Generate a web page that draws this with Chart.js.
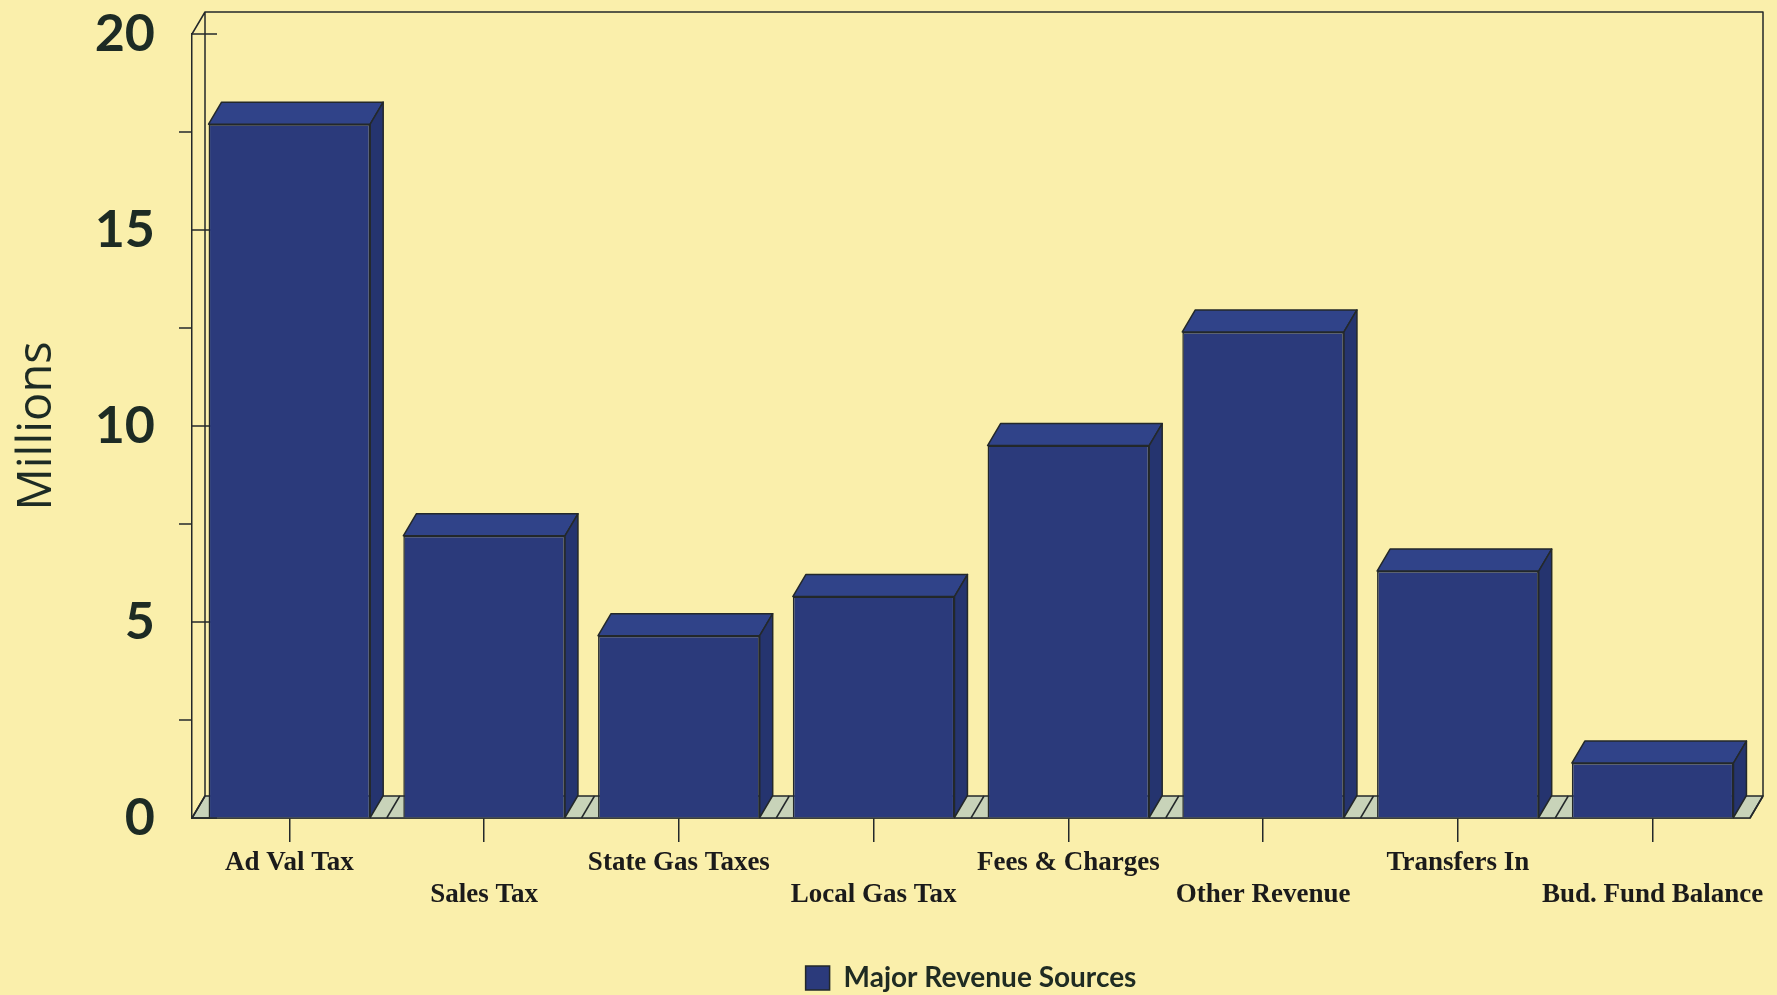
<!DOCTYPE html>
<html><head><meta charset="utf-8">
<script src="https://cdn.jsdelivr.net/npm/chart.js@4.4.0/dist/chart.umd.min.js"></script>
<style>html,body{margin:0;padding:0;background:#FAEFAB;} canvas{display:block;}</style>
</head><body>
<canvas id="c" width="1777" height="995"></canvas>
<script>
// ---- data ----
const categories = ['Ad Val Tax','Sales Tax','State Gas Taxes','Local Gas Tax','Fees & Charges','Other Revenue','Transfers In','Bud. Fund Balance'];
const revenueMillions = [17.7, 7.2, 4.65, 5.65, 9.5, 12.4, 6.3, 1.4];
const seriesName = 'Major Revenue Sources';
const yMajorTicks = [0, 5, 10, 15, 20];
const yAxisTitle = 'Millions';

// ---- style ----
const BG = '#FAEFAB';
const LINE = '#23282a';
const FRONT = '#2b3a7b';
const TOP = '#304389';
const SIDE = '#25346f';
const FLOOR = '#c8d3b9';
const DX = 13, DY = -22;

const depth3d = {
  id: 'depth3d',
  beforeDatasetsDraw(chart) {
    const {ctx, chartArea: a, scales: {x, y}} = chart;
    const y0 = y.getPixelForValue(0), yT = y.getPixelForValue(20);
    ctx.save();
    ctx.lineWidth = 1.5; ctx.strokeStyle = LINE; ctx.lineJoin = 'round';
    // floor
    ctx.fillStyle = FLOOR;
    ctx.beginPath();
    ctx.moveTo(a.left, y0); ctx.lineTo(a.right, y0);
    ctx.lineTo(a.right + DX, y0 + DY); ctx.lineTo(a.left + DX, y0 + DY);
    ctx.closePath(); ctx.fill(); ctx.stroke();
    // floor category dividers
    for (let i = 0; i <= categories.length; i++) {
      const bx = x.getPixelForValue(i - 0.5);
      ctx.beginPath(); ctx.moveTo(bx, y0); ctx.lineTo(bx + DX, y0 + DY); ctx.stroke();
    }
    // walls outline
    ctx.beginPath();
    ctx.moveTo(a.left, yT); ctx.lineTo(a.left + DX, yT + DY);
    ctx.lineTo(a.right + DX, yT + DY); ctx.lineTo(a.right + DX, y0 + DY);
    ctx.moveTo(a.left + DX, yT + DY); ctx.lineTo(a.left + DX, y0 + DY);
    ctx.stroke();
    // y ticks: majors inside, minors outside
    y.ticks.forEach(t => {
      const py = y.getPixelForValue(t.value);
      ctx.beginPath();
      if (yMajorTicks.includes(t.value)) { ctx.moveTo(a.left, py); ctx.lineTo(a.left + 25, py); }
      else { ctx.moveTo(a.left - 13, py); ctx.lineTo(a.left, py); }
      ctx.stroke();
    });
    ctx.restore();
  },
  afterDatasetsDraw(chart) {
    const {ctx} = chart;
    const meta = chart.getDatasetMeta(0);
    ctx.save();
    ctx.lineWidth = 1.5; ctx.strokeStyle = LINE; ctx.lineJoin = 'round';
    meta.data.forEach(bar => {
      const {x, y, base, width} = bar.getProps(['x', 'y', 'base', 'width'], true);
      const l = x - width / 2, r = x + width / 2;
      ctx.fillStyle = TOP;
      ctx.beginPath();
      ctx.moveTo(l, y); ctx.lineTo(l + DX, y + DY); ctx.lineTo(r + DX, y + DY); ctx.lineTo(r, y);
      ctx.closePath(); ctx.fill(); ctx.stroke();
      ctx.fillStyle = SIDE;
      ctx.beginPath();
      ctx.moveTo(r, y); ctx.lineTo(r + DX, y + DY); ctx.lineTo(r + DX, base + DY); ctx.lineTo(r, base);
      ctx.closePath(); ctx.fill(); ctx.stroke();
    });
    ctx.restore();
  }
};

new Chart(document.getElementById('c'), {
  type: 'bar',
  data: {
    labels: categories,
    datasets: [{
      label: seriesName,
      data: revenueMillions,
      backgroundColor: FRONT,
      borderColor: LINE,
      borderWidth: 1.5,
      categoryPercentage: 1,
      barPercentage: 0.83
    }]
  },
  options: {
    responsive: false,
    animation: false,
    devicePixelRatio: 1,
    layout: { padding: { top: 34, right: 27, left: 0, bottom: -7 } },
    plugins: {
      tooltip: { enabled: false },
      legend: {
        position: 'bottom',
        fullSize: false,
        labels: {
          boxWidth: 24, boxHeight: 24, padding: 0,
          color: '#1f2b22',
          font: { family: 'Lato', weight: 'bold', size: 28 }
        }
      }
    },
    scales: {
      x: {
        grid: { display: true, drawOnChartArea: false, drawTicks: true, tickLength: 24, offset: false, color: LINE, lineWidth: 1.5 },
        border: { display: true, color: LINE, width: 1.5 },
        ticks: {
          autoSkip: false, maxRotation: 0, minRotation: 0, padding: 6,
          color: '#1b1b1b',
          font: { family: 'Liberation Serif', weight: 'bold', size: 27, lineHeight: 1.15 },
          callback: (v, i) => (i % 2 ? ['', categories[i]] : categories[i])
        },
        afterFit: s => { s.height = 146; }
      },
      y: {
        min: 0, max: 20,
        grid: { display: true, drawOnChartArea: false, drawTicks: true, tickLength: 37, color: 'rgba(0,0,0,0)' },
        border: { display: true, color: LINE, width: 1.5 },
        ticks: {
          stepSize: 2.5, padding: 0,
          color: '#1d2b24',
          font: { family: 'Lato', weight: 'bold', size: 52, lineHeight: 1.1 },
          callback: v => (yMajorTicks.includes(v) ? String(v) : '')
        },
        title: {
          display: true, text: yAxisTitle, color: '#1d2b24',
          padding: { top: 9, bottom: 4 },
          font: { family: 'Open Sans', size: 47 }
        },
        afterFit: s => { s.width = 192; }
      }
    }
  },
  plugins: [depth3d]
});
</script>
</body></html>
